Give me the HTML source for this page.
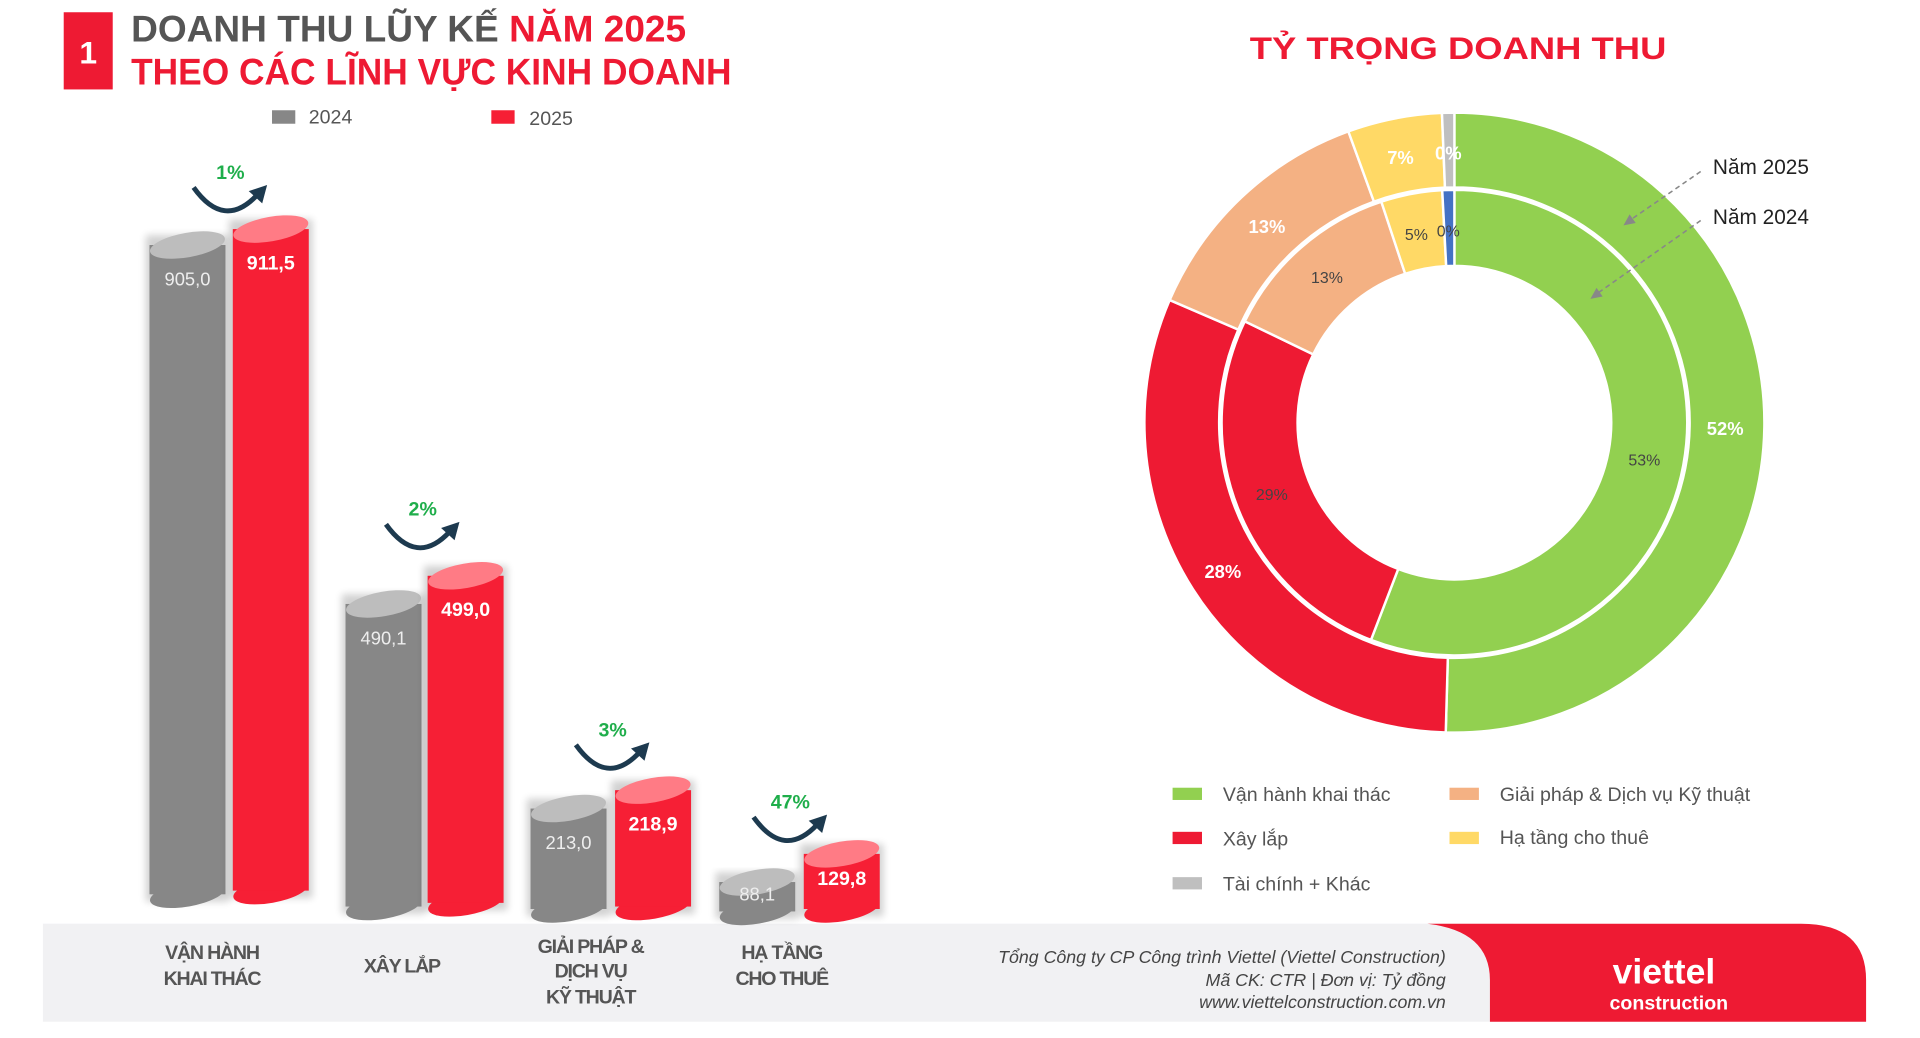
<!DOCTYPE html>
<html><head><meta charset="utf-8">
<style>
html,body{margin:0;padding:0;background:#fff;}
svg{display:block;}
text{font-family:"Liberation Sans",sans-serif;}
</style></head>
<body>
<svg id="s" width="1920" height="1038" viewBox="0 0 1567 847.3" preserveAspectRatio="none" xmlns="http://www.w3.org/2000/svg">
<defs>
<filter id="sh" x="-30%" y="-10%" width="160%" height="130%"><feGaussianBlur stdDeviation="3"/></filter>
</defs>
<!-- title -->
<rect x="52" y="10" width="40" height="63" fill="#ee1a33"/>
<text x="72" y="52" font-size="26" font-weight="bold" fill="#fff" text-anchor="middle">1</text>
<text x="107" y="34" font-size="30" font-weight="bold" fill="#555" textLength="453" lengthAdjust="spacingAndGlyphs">DOANH THU LŨY KẾ <tspan fill="#ee1a33">NĂM 2025</tspan></text>
<text x="107" y="69" font-size="30" font-weight="bold" fill="#ee1a33" textLength="490" lengthAdjust="spacingAndGlyphs">THEO CÁC LĨNH VỰC KINH DOANH</text>
<!-- legend -->
<rect x="222" y="90" width="19" height="11" fill="#878787"/>
<text x="252" y="101" font-size="16" fill="#555">2024</text>
<rect x="401" y="90" width="19" height="11" fill="#f61f35"/>
<text x="432" y="102" font-size="16" fill="#555">2025</text>
<!-- gray band -->
<rect x="35" y="754" width="1200" height="80" fill="#f1f1f3"/>
<path d="M1165 754 L1470 754 Q1523 754 1523 800 L1523 834 L1216 834 L1216 800 Q1216 760 1165 754 Z" fill="#ee1a33"/>
<g id="bars"></g>
<!-- category labels -->
<g font-size="16" font-weight="bold" fill="#555" text-anchor="middle" letter-spacing="-1">
<text x="173" y="783">VẬN HÀNH</text><text x="173" y="804">KHAI THÁC</text>
<text x="328" y="794">XÂY LẮP</text>
<text x="482" y="778">GIẢI PHÁP &amp;</text><text x="482" y="798">DỊCH VỤ</text><text x="482" y="819">KỸ THUẬT</text>
<text x="638" y="783">HẠ TẦNG</text><text x="638" y="804">CHO THUÊ</text>
</g>
<!-- footer text -->
<g font-size="14.5" font-style="italic" fill="#444" text-anchor="end">
<text x="1180" y="786">Tổng Công ty CP Công trình Viettel (Viettel Construction)</text>
<text x="1180" y="805">Mã CK: CTR  |  Đơn vị: Tỷ đồng</text>
<text x="1180" y="823">www.viettelconstruction.com.vn</text>
</g>
<text x="1358" y="803" font-size="29" font-weight="bold" fill="#fff" text-anchor="middle">viettel</text>
<text x="1362" y="824" font-size="16" font-weight="bold" fill="#fff" text-anchor="middle">construction</text>
<!-- donut -->
<text x="1190" y="48" font-size="26" font-weight="bold" fill="#ee1a33" text-anchor="middle" textLength="340" lengthAdjust="spacingAndGlyphs">TỶ TRỌNG DOANH THU</text>
<g id="donut"></g>
<g font-size="15" font-weight="bold" fill="#fff" text-anchor="middle">
<text x="1408" y="355">52%</text><text x="998" y="472">28%</text><text x="1034" y="190">13%</text><text x="1143" y="134">7%</text><text x="1182" y="130">0%</text>
</g>
<g font-size="13" fill="#444" text-anchor="middle">
<text x="1342" y="380">53%</text><text x="1038" y="408">29%</text><text x="1083" y="231">13%</text><text x="1156" y="196">5%</text><text x="1182" y="193">0%</text>
</g>
<g stroke="#888" stroke-dasharray="4 3" stroke-width="1.3" fill="none">
<line x1="1388" y1="140" x2="1330" y2="180"/><line x1="1388" y1="180" x2="1303" y2="240"/>
</g>
<path d="M1325 184 l10 -2 l-5 -7 z M1298 244 l10 -2 l-5 -7 z" fill="#888"/>
<text x="1398" y="142" font-size="17" fill="#222">Năm 2025</text>
<text x="1398" y="183" font-size="17" fill="#222">Năm 2024</text>
<!-- legend right -->
<g font-size="16" fill="#555">
<rect x="957" y="643" width="24" height="10" fill="#92d050"/><text x="998" y="654">Vận hành khai thác</text>
<rect x="1183" y="643" width="24" height="10" fill="#f4b183"/><text x="1224" y="654">Giải pháp &amp; Dịch vụ Kỹ thuật</text>
<rect x="957" y="679" width="24" height="10" fill="#ee1a33"/><text x="998" y="690">Xây lắp</text>
<rect x="1183" y="679" width="24" height="10" fill="#ffd966"/><text x="1224" y="689">Hạ tầng cho thuê</text>
<rect x="957" y="716" width="24" height="10" fill="#bfbfbf"/><text x="998" y="727">Tài chính + Khác</text>
</g>
</svg>
<script>
var NS="http://www.w3.org/2000/svg";
function el(p,t,a){var e=document.createElementNS(NS,t);for(var k in a)e.setAttribute(k,a[k]);p.appendChild(e);return e;}
var cx=1187,cy=345;
function pt(r,a){a=a*Math.PI/180;return [cx+r*Math.sin(a),cy-r*Math.cos(a)];}
function arc(R,r,a0,a1){var l=(a1-a0)>180?1:0;var p0=pt(R,a0),p1=pt(R,a1),p2=pt(r,a1),p3=pt(r,a0);
return "M"+p0+" A"+R+" "+R+" 0 "+l+" 1 "+p1+" L"+p2+" A"+r+" "+r+" 0 "+l+" 0 "+p3+"Z";}
var d=document.getElementById("donut");
var outer=[[0,181.6,"#92d050"],[181.6,293.3,"#ee1a33"],[293.3,340,"#f4b183"],[340,357.7,"#ffd966"],[357.7,360,"#bfbfbf"]];
var inner=[[0,201,"#92d050"],[201,295.8,"#ee1a33"],[295.8,341.7,"#f4b183"],[341.7,357,"#ffd966"],[357,360,"#4472c4"]];
outer.forEach(function(s){el(d,"path",{d:arc(253,192,s[0],s[1]),fill:s[2],stroke:"#fff","stroke-width":2});});
inner.forEach(function(s){el(d,"path",{d:arc(190,128,s[0],s[1]),fill:s[2],stroke:"#fff","stroke-width":2});});
var b=document.getElementById("bars");
function cyl(x,w,top,bot,col,tc,lab,bold,lc){
 bot-=8;
 el(b,"rect",{x:x-3,y:top-8,width:w+6,height:bot-top+14,fill:"#000",opacity:0.18,filter:"url(#sh)"});
 el(b,"ellipse",{cx:x+w/2,cy:bot,rx:w/2,ry:10,fill:col,transform:"rotate(-10 "+(x+w/2)+" "+bot+")"});
 el(b,"rect",{x:x,y:top,width:w,height:bot-top,fill:col});
 el(b,"ellipse",{cx:x+w/2,cy:top,rx:w/2,ry:10,fill:tc,transform:"rotate(-10 "+(x+w/2)+" "+top+")"});
 var ly=Math.min(top+33,(top+bot)/2+3);
 var t=el(b,"text",{x:x+w/2,y:ly,"font-size":bold?16:15,"font-weight":bold?"bold":"normal",fill:lc,"text-anchor":"middle"});t.textContent=lab;
}
var G=[[122,200,738,190,187,735,"905,0","911,5","1%",188,140],[282,493,748,349,470,745,"490,1","499,0","2%",345,415],[433,660,750,502,645,748,"213,0","218,9","3%",500,595],[587,720,752,656,697,750,"88,1","129,8","47%",645,654]];
G.forEach(function(g){
 cyl(g[0],62,g[1],g[2],"#878787","#bdbdbd",g[6],false,"#eee");
 cyl(g[3],62,g[4],g[5],"#f61f35","#ff7b85",g[7],true,"#fff");
 var t=el(b,"text",{x:g[9],y:g[10]+6,"font-size":16,"font-weight":"bold",fill:"#1fae4b","text-anchor":"middle"});t.textContent=g[8];
 var x0=g[9]-30,y0=g[10]+13;
 el(b,"path",{d:"M"+x0+" "+y0+" Q"+(x0+25)+" "+(y0+35)+" "+(x0+52)+" "+(y0+6),stroke:"#1d3a4f","stroke-width":4,fill:"none"});
 el(b,"path",{d:"M"+(x0+45)+" "+(y0+3)+" L"+(x0+60)+" "+(y0-2)+" L"+(x0+56)+" "+(y0+13)+"Z",fill:"#1d3a4f"});
});
</script>
</body></html>
